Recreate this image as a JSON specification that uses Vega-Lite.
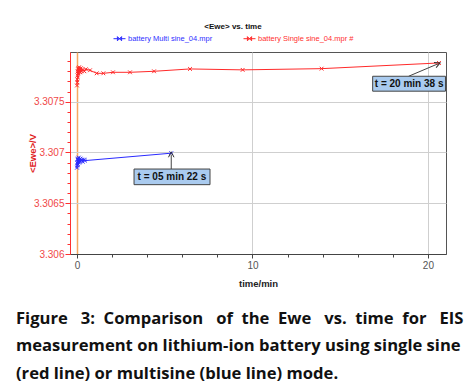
{
  "$schema": "https://vega.github.io/schema/vega-lite/v6.json",
  "autosize": {"type": "none"},
  "width": 376,
  "height": 202,
  "padding": {"left": 70, "top": 52, "right": 27, "bottom": 137},
  "background": "white",
  "config": {
    "view": {"stroke": "#555", "strokeWidth": 1},
    "font": "Liberation Sans"
  },
  "title": {
    "text": [
      "Figure\u00a0\u00a0 3:\u00a0 Comparison\u00a0\u00a0 of\u00a0 the\u00a0 Ewe\u00a0\u00a0 vs.\u00a0 time\u00a0 for\u00a0\u00a0 EIS",
      "measurement on lithium-ion battery using single sine",
      "(red line) or multisine (blue line) mode."
    ],
    "orient": "bottom",
    "anchor": "start",
    "frame": "group",
    "dx": -54,
    "offset": 23,
    "font": "Open Sans",
    "fontSize": 16.6,
    "fontWeight": "bold",
    "lineHeight": 27.5,
    "color": "#111"
  },
  "datasets": {
    "series": [
      {"series": "battery Single sine_04.mpr #", "t": 0.00, "E": 3.30766},
      {"series": "battery Single sine_04.mpr #", "t": 0.01, "E": 3.30772},
      {"series": "battery Single sine_04.mpr #", "t": 0.02, "E": 3.30769},
      {"series": "battery Single sine_04.mpr #", "t": 0.03, "E": 3.30776},
      {"series": "battery Single sine_04.mpr #", "t": 0.04, "E": 3.30780},
      {"series": "battery Single sine_04.mpr #", "t": 0.05, "E": 3.30774},
      {"series": "battery Single sine_04.mpr #", "t": 0.06, "E": 3.30782},
      {"series": "battery Single sine_04.mpr #", "t": 0.07, "E": 3.30778},
      {"series": "battery Single sine_04.mpr #", "t": 0.08, "E": 3.30783},
      {"series": "battery Single sine_04.mpr #", "t": 0.10, "E": 3.30779},
      {"series": "battery Single sine_04.mpr #", "t": 0.12, "E": 3.30784},
      {"series": "battery Single sine_04.mpr #", "t": 0.14, "E": 3.30780},
      {"series": "battery Single sine_04.mpr #", "t": 0.16, "E": 3.30782},
      {"series": "battery Single sine_04.mpr #", "t": 0.19, "E": 3.30779},
      {"series": "battery Single sine_04.mpr #", "t": 0.22, "E": 3.30783},
      {"series": "battery Single sine_04.mpr #", "t": 0.26, "E": 3.30780},
      {"series": "battery Single sine_04.mpr #", "t": 0.30, "E": 3.30782},
      {"series": "battery Single sine_04.mpr #", "t": 0.35, "E": 3.30781},
      {"series": "battery Single sine_04.mpr #", "t": 0.42, "E": 3.30780},
      {"series": "battery Single sine_04.mpr #", "t": 0.50, "E": 3.30782},
      {"series": "battery Single sine_04.mpr #", "t": 0.74, "E": 3.30781},
      {"series": "battery Single sine_04.mpr #", "t": 1.12, "E": 3.30778},
      {"series": "battery Single sine_04.mpr #", "t": 1.50, "E": 3.30778},
      {"series": "battery Single sine_04.mpr #", "t": 2.05, "E": 3.30779},
      {"series": "battery Single sine_04.mpr #", "t": 3.02, "E": 3.30779},
      {"series": "battery Single sine_04.mpr #", "t": 4.39, "E": 3.30780},
      {"series": "battery Single sine_04.mpr #", "t": 6.44, "E": 3.307823},
      {"series": "battery Single sine_04.mpr #", "t": 9.44, "E": 3.307814},
      {"series": "battery Single sine_04.mpr #", "t": 13.94, "E": 3.307826},
      {"series": "battery Single sine_04.mpr #", "t": 20.63, "E": 3.307882},
      {"series": "battery Multi sine_04.mpr", "t": 0.00, "E": 3.30685},
      {"series": "battery Multi sine_04.mpr", "t": 0.01, "E": 3.30690},
      {"series": "battery Multi sine_04.mpr", "t": 0.02, "E": 3.30687},
      {"series": "battery Multi sine_04.mpr", "t": 0.03, "E": 3.30693},
      {"series": "battery Multi sine_04.mpr", "t": 0.04, "E": 3.30689},
      {"series": "battery Multi sine_04.mpr", "t": 0.05, "E": 3.30694},
      {"series": "battery Multi sine_04.mpr", "t": 0.06, "E": 3.30688},
      {"series": "battery Multi sine_04.mpr", "t": 0.08, "E": 3.30692},
      {"series": "battery Multi sine_04.mpr", "t": 0.10, "E": 3.30695},
      {"series": "battery Multi sine_04.mpr", "t": 0.12, "E": 3.30690},
      {"series": "battery Multi sine_04.mpr", "t": 0.14, "E": 3.30693},
      {"series": "battery Multi sine_04.mpr", "t": 0.17, "E": 3.30691},
      {"series": "battery Multi sine_04.mpr", "t": 0.20, "E": 3.30694},
      {"series": "battery Multi sine_04.mpr", "t": 0.24, "E": 3.30692},
      {"series": "battery Multi sine_04.mpr", "t": 0.28, "E": 3.30693},
      {"series": "battery Multi sine_04.mpr", "t": 0.33, "E": 3.30691},
      {"series": "battery Multi sine_04.mpr", "t": 0.40, "E": 3.30693},
      {"series": "battery Multi sine_04.mpr", "t": 0.45, "E": 3.30692},
      {"series": "battery Multi sine_04.mpr", "t": 5.37, "E": 3.306993}
    ],
    "notes": [
      {"id": "a", "label": "t = 20 min 38 s", "t1": 16.85, "t2": 21.0, "E1": 3.307604, "E2": 3.307751, "tc": 18.93, "Ec": 3.307678, "at": 18.9, "aE": 3.307751, "ht": 20.55, "hE": 3.307872},
      {"id": "b", "label": "t = 05 min 22 s", "t1": 3.25, "t2": 7.58, "E1": 3.306683, "E2": 3.306837, "tc": 5.41, "Ec": 3.30676, "at": 5.37, "aE": 3.306837, "ht": 5.37, "hE": 3.30698}
    ]
  },
  "layer": [
    {
      "data": {"name": "series"},
      "mark": {"type": "line", "strokeWidth": 1, "clip": true},
      "encoding": {
        "x": {
          "field": "t", "type": "quantitative",
          "scale": {"domain": [-0.4, 21.03], "nice": false, "zero": false},
          "axis": {
            "title": "time/min",
            "titleFontSize": 9.5,
            "titleFontWeight": "bold",
            "titleColor": "#222",
            "titlePadding": 8,
            "values": [0, 2, 4, 6, 8, 10, 12, 14, 16, 18, 20],
            "tickCount": 100,
            "labelExpr": "datum.value % 10 == 0 ? format(datum.value, 'd') : ''",
            "labelOverlap": false,
            "labelFlush": false,
            "labelFontSize": 10,
            "labelColor": "#555",
            "labelPadding": 2,
            "domainColor": "#444",
            "tickColor": "#444",
            "tickSize": {"condition": {"test": "datum.value % 10 == 0", "value": 4}, "value": 3},
            "grid": true,
            "gridColor": {"condition": {"test": "datum.value == 0", "value": "#f6a860"}, "value": "#cfcfcf"},
            "gridWidth": {"condition": {"test": "datum.value == 0", "value": 1.5}, "value": 1},
            "gridOpacity": {"condition": {"test": "datum.value % 10 == 0", "value": 1}, "value": 0}
          }
        },
        "y": {
          "field": "E", "type": "quantitative",
          "scale": {"domain": [3.306, 3.30799], "nice": false, "zero": false},
          "axis": {
            "title": "<Ewe>/V",
            "titleColor": "#e02020",
            "titleFontSize": 9.5,
            "titleFontWeight": "bold",
            "titleX": -33,
            "titleY": 101,
            "values": [3.306, 3.3061, 3.3062, 3.3063, 3.3064, 3.3065, 3.3066, 3.3067, 3.3068, 3.3069, 3.307, 3.3071, 3.3072, 3.3073, 3.3074, 3.3075, 3.3076, 3.3077, 3.3078, 3.3079],
            "tickCount": 100,
            "labelExpr": "round(datum.value * 10000) % 5 == 0 ? format(datum.value, '.4~f') : ''",
            "labelOverlap": false,
            "labelFlush": false,
            "labelFontSize": 10,
            "labelColor": "#f04848",
            "labelPadding": 1,
            "domainColor": "#ff3030",
            "tickColor": "#ff3030",
            "tickSize": {"condition": {"test": "round(datum.value * 10000) % 5 == 0", "value": 5}, "value": 3},
            "grid": true,
            "gridColor": "#cfcfcf",
            "gridOpacity": {"condition": {"test": "round(datum.value * 10000) % 5 == 0 && datum.value > 3.3061", "value": 1}, "value": 0}
          }
        },
        "color": {
          "field": "series", "type": "nominal",
          "scale": {"domain": ["battery Multi sine_04.mpr", "battery Single sine_04.mpr #"], "range": ["#2a2aff", "#ff2a2a"]},
          "legend": {
            "orient": "none",
            "legendX": 43,
            "legendY": -29,
            "direction": "horizontal",
            "title": "<Ewe> vs. time",
            "titleOrient": "top",
            "titleAnchor": "middle",
            "titleFontSize": 8,
            "titleFontWeight": "bold",
            "titleColor": "#111",
            "titlePadding": 1,
            "labelFontSize": 7.5,
            "labelOffset": 2,
            "columnPadding": 28,
            "symbolType": "M-1,0H1M-0.35,-0.35L0.35,0.35M-0.35,0.35L0.35,-0.35M-0.35,-0.35V0.35M0.35,-0.35V0.35",
            "symbolSize": 144,
            "symbolStrokeWidth": 1,
            "symbolFillColor": "transparent",
            "encode": {
              "labels": {"update": {"fill": {"signal": "datum.value == 'battery Multi sine_04.mpr' ? '#3030ff' : '#ff3030'"}}}
            }
          }
        }
      }
    },
    {
      "data": {"name": "series"},
      "mark": {"type": "point", "shape": "M-1,-1L1,1M-1,1L1,-1", "filled": false, "size": 14, "strokeWidth": 1, "opacity": 1},
      "encoding": {
        "x": {"field": "t", "type": "quantitative"},
        "y": {"field": "E", "type": "quantitative"},
        "color": {"field": "series", "type": "nominal", "legend": null}
      }
    },
    {
      "data": {"name": "notes"},
      "mark": {"type": "rule", "color": "#444", "strokeWidth": 1},
      "encoding": {
        "x": {"field": "at", "type": "quantitative"},
        "y": {"field": "aE", "type": "quantitative"},
        "x2": {"field": "ht"},
        "y2": {"field": "hE"}
      }
    },
    {
      "data": {"name": "notes"},
      "transform": [{"filter": "datum.id == 'a'"}],
      "mark": {"type": "point", "shape": "M-1,1L0,-1L1,1", "filled": false, "color": "#333", "size": 30, "angle": 67, "strokeWidth": 1, "opacity": 1},
      "encoding": {
        "x": {"field": "ht", "type": "quantitative"},
        "y": {"field": "hE", "type": "quantitative"}
      }
    },
    {
      "data": {"name": "notes"},
      "transform": [{"filter": "datum.id == 'b'"}],
      "mark": {"type": "point", "shape": "M-1,1L0,-1L1,1", "filled": false, "color": "#333", "size": 30, "angle": 0, "strokeWidth": 1, "opacity": 1},
      "encoding": {
        "x": {"field": "ht", "type": "quantitative"},
        "y": {"field": "hE", "type": "quantitative"}
      }
    },
    {
      "data": {"name": "notes"},
      "mark": {"type": "rect", "fill": "#aacbef", "stroke": "#444", "strokeWidth": 1},
      "encoding": {
        "x": {"field": "t1", "type": "quantitative"},
        "x2": {"field": "t2"},
        "y": {"field": "E1", "type": "quantitative"},
        "y2": {"field": "E2"}
      }
    },
    {
      "data": {"name": "notes"},
      "mark": {"type": "text", "fontSize": 10, "fontWeight": "bold", "color": "#111", "align": "center", "baseline": "middle"},
      "encoding": {
        "x": {"field": "tc", "type": "quantitative"},
        "y": {"field": "Ec", "type": "quantitative"},
        "text": {"field": "label"}
      }
    }
  ]
}
